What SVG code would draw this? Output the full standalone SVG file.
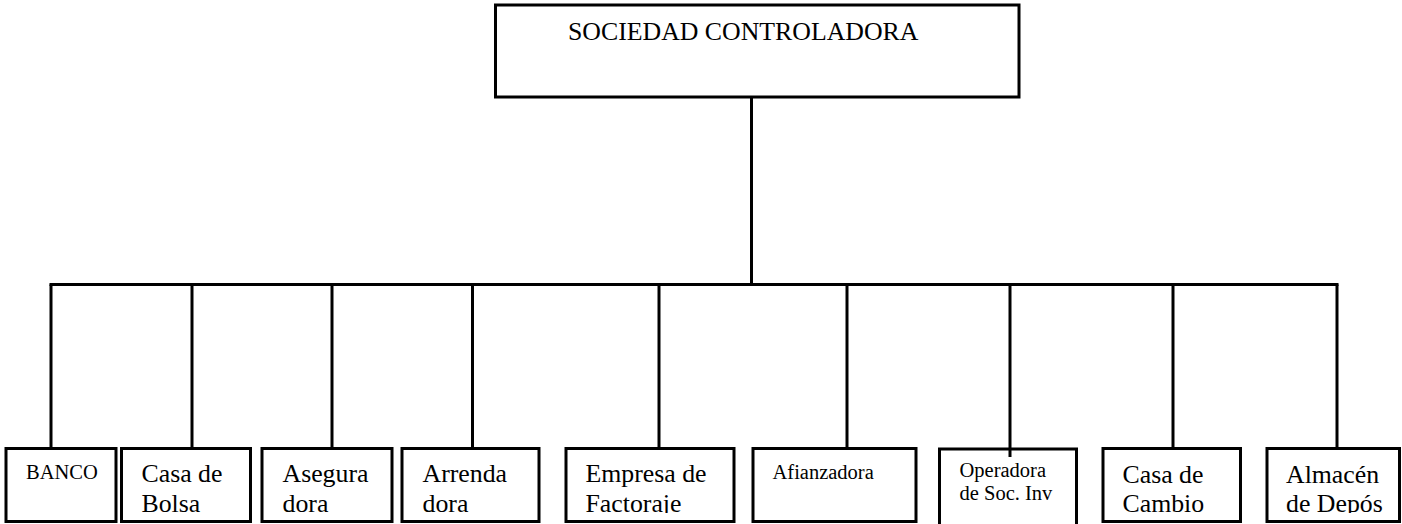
<svg xmlns="http://www.w3.org/2000/svg" width="1402" height="524" viewBox="0 0 1402 524">
<style>
.box{fill:#fff;stroke:#000;stroke-width:3}
.ln{stroke:#000;stroke-width:3;fill:none}
.big{font-family:"Liberation Serif","Times New Roman",serif;font-size:25.8px;fill:#000}
.sm{font-family:"Liberation Serif","Times New Roman",serif;font-size:20.5px;fill:#000}
</style>
<defs>
<clipPath id="clipb"><rect x="0" y="0" width="1402" height="513"/></clipPath>
</defs>
<rect width="1402" height="524" fill="#fff"/>
<g id="connectors">
<line class="ln" x1="751.5" y1="97" x2="751.5" y2="284.5"/>
<line class="ln" x1="49.5" y1="284.5" x2="1338.5" y2="284.5"/>
<line class="ln" x1="51" y1="284.5" x2="51" y2="448"/>
<line class="ln" x1="192" y1="284.5" x2="192" y2="448"/>
<line class="ln" x1="332" y1="284.5" x2="332" y2="448"/>
<line class="ln" x1="472.5" y1="284.5" x2="472.5" y2="448"/>
<line class="ln" x1="659" y1="284.5" x2="659" y2="448"/>
<line class="ln" x1="847" y1="284.5" x2="847" y2="448"/>
<line class="ln" x1="1010" y1="284.5" x2="1010" y2="457"/>
<line class="ln" x1="1173" y1="284.5" x2="1173" y2="448"/>
<line class="ln" x1="1337" y1="284.5" x2="1337" y2="448"/>
</g>
<g id="sociedad">
<rect class="box" x="495.5" y="5" width="523.5" height="92"/>
<text class="big" x="568" y="40">SOCIEDAD CONTROLADORA</text>
</g>
<g id="banco">
<rect class="box" x="6" y="448.5" width="110" height="73"/>
<text class="sm" x="26" y="478.5">BANCO</text>
</g>
<g id="casa-bolsa">
<rect class="box" x="121.5" y="448.5" width="129" height="73"/>
<text class="big" x="141.5" y="482">Casa de</text>
<text class="big" x="141.5" y="511.5">Bolsa</text>
</g>
<g id="aseguradora">
<rect class="box" x="262" y="448.5" width="130" height="73"/>
<text class="big" x="282.5" y="482">Asegura</text>
<text class="big" x="282.5" y="511.5">dora</text>
</g>
<g id="arrendadora">
<rect class="box" x="402" y="448.5" width="137" height="73"/>
<text class="big" x="422.5" y="482">Arrenda</text>
<text class="big" x="422.5" y="511.5">dora</text>
</g>
<g id="factoraje">
<rect class="box" x="566" y="448.5" width="168" height="73"/>
<text class="big" x="585.5" y="482">Empresa de</text>
<text class="big" x="585.5" y="511.5" clip-path="url(#clipb)">Factoraje</text>
</g>
<g id="afianzadora">
<rect class="box" x="753" y="448.5" width="163" height="73"/>
<text class="sm" x="772.5" y="478.5">Afianzadora</text>
</g>
<g id="operadora">
<path class="ln" d="M939.5 524 V449 H1076.5 V524" fill="#fff"/>
<text class="sm" x="959.5" y="477">Operadora</text>
<text class="sm" x="959.5" y="500">de Soc. Inv</text>
</g>
<g id="casa-cambio">
<rect class="box" x="1103" y="448.5" width="137.5" height="73"/>
<text class="big" x="1122.5" y="483">Casa de</text>
<text class="big" x="1122.5" y="511.5">Cambio</text>
</g>
<g id="almacen">
<rect class="box" x="1267" y="448.5" width="132.5" height="73"/>
<text class="big" x="1286" y="483">Almacén</text>
<text class="big" x="1286" y="511.5" clip-path="url(#clipb)">de Depós</text>
</g>
</svg>
